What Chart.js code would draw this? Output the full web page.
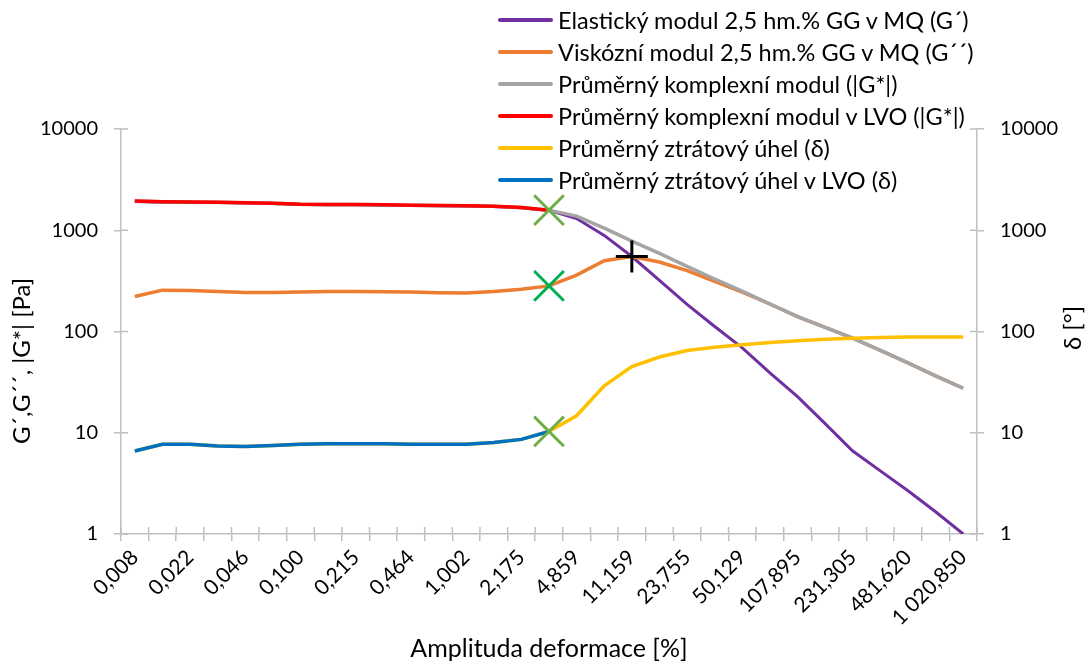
<!DOCTYPE html>
<html>
<head>
<meta charset="utf-8">
<script src="https://cdn.jsdelivr.net/npm/chart.js@4.4.0/dist/chart.umd.min.js"></script>
<style>
  body { margin: 0; background: #fff; }
  #wrap { position: relative; width: 1091px; height: 664px; }
  #legend { position: absolute; left: 498px; top: 4px; font-family: Lato, sans-serif; font-size: 23.5px; color: #000; }
  #legend .row { display: flex; align-items: center; height: 32px; white-space: nowrap; }
  #legend .line { width: 55px; height: 4px; margin-right: 5px; border-radius: 2px; }
</style>
</head>
<body>
<div id="wrap">
  <canvas id="chart"></canvas>
  <div id="legend"></div>
</div>
<script>
// amplituda deformace [%]
const categories = ['0,008', '0,014', '0,022', '0,032', '0,046', '0,068', '0,100', '0,147', '0,215', '0,316',
  '0,464', '0,681', '1,002', '1,476', '2,175', '3,251', '4,859', '7,363', '11,159', '16,281',
  '23,755', '34,509', '50,129', '73,544', '107,895', '157,977', '231,305', '333,768', '481,620', '701,173',
  '1 020,850'];

// G' a G'' [Pa]
const elasticModulus = [1925, 1895, 1885, 1875, 1855, 1835, 1795, 1785, 1785, 1775, 1755, 1745, 1735, 1715, 1665, 1570,
  1306, 890, 550, 320, 185, 112, 69, 39, 22.7, 12.3, 6.6, 4.2, 2.67, 1.66, 1.0];
const viscousModulus = [222, 256, 254, 248, 243, 243, 246, 249, 248, 247, 245, 241, 240, 248, 262, 282,
  360, 500, 550, 485, 400, 313, 245, 187, 140, 110, 86, 65, 49, 36.5, 27.5];

// |G*| [Pa]
const complexModulus = [1940, 1910, 1900, 1890, 1870, 1850, 1810, 1800, 1800, 1790, 1770, 1760, 1750, 1730, 1680, 1580,
  1380, 1050, 780, 590, 440, 330, 250, 187, 140, 110, 86, 65, 49, 36.5, 27.5];
const complexModulusLVO = [1940, 1910, 1900, 1890, 1870, 1850, 1810, 1800, 1800, 1790, 1770, 1760, 1750, 1730, 1680, 1580];

// ztratovy uhel [°]
const lossAngle = [6.6, 7.7, 7.7, 7.4, 7.3, 7.5, 7.7, 7.8, 7.8, 7.8, 7.7, 7.7, 7.7, 8.0, 8.6, 10.3,
  14.7, 29, 45, 56, 65, 70, 74, 78, 81, 84, 86, 87, 88, 88, 88];
const lossAngleLVO = [6.6, 7.7, 7.7, 7.4, 7.3, 7.5, 7.7, 7.8, 7.8, 7.8, 7.7, 7.7, 7.7, 8.0, 8.6, 10.3];

// konec LVO a bod krizeni G' = G''
const lvoEndIndex = 15;
const lvoEndG = 1580;
const lvoEndViscous = 282;
const lvoEndAngle = 10.3;
const crossoverIndex = 18;
const crossoverValue = 550;

const yTicks = [1, 10, 100, 1000, 10000];

function onePoint(idx, val) {
  return categories.map((c, i) => (i === idx ? val : null));
}

Chart.defaults.font.family = 'Lato, sans-serif';
Chart.defaults.font.size = 20;
Chart.defaults.color = '#000';

const axisColor = '#BFBFBF';

// kratke carky dovnitr grafu (Excel "cross" tick marks)
const crossTicks = {
  id: 'crossTicks',
  afterDraw(chart) {
    const { ctx, chartArea, scales } = chart;
    ctx.save();
    ctx.strokeStyle = axisColor;
    ctx.lineWidth = 1.5;
    ctx.beginPath();
    yTicks.forEach(v => {
      const y = scales.y.getPixelForValue(v);
      ctx.moveTo(chartArea.left, y);
      ctx.lineTo(chartArea.left + 7, y);
      ctx.moveTo(chartArea.right - 7, y);
      ctx.lineTo(chartArea.right, y);
    });
    for (let i = 0; i <= categories.length; i++) {
      const x = scales.x.getPixelForValue(i - 0.5);
      ctx.moveTo(x, chartArea.bottom);
      ctx.lineTo(x, chartArea.bottom - 7);
    }
    ctx.stroke();
    ctx.restore();
  }
};

// popisky svislych os (oba ctene zdola nahoru)
function drawVertical(ctx, text, x, y) {
  ctx.save();
  ctx.fillStyle = '#000';
  ctx.font = '24px Lato, sans-serif';
  ctx.textAlign = 'center';
  ctx.textBaseline = 'middle';
  ctx.translate(x, y);
  ctx.rotate(-Math.PI / 2);
  ctx.fillText(text, 0, 0);
  ctx.restore();
}

const axisTitles = {
  id: 'axisTitles',
  afterDraw(chart) {
    drawVertical(chart.ctx, 'G´,G´´, |G*| [Pa]', 22, 361);
    drawVertical(chart.ctx, 'δ [°]', 1073, 328);
  }
};

const htmlLegend = {
  id: 'htmlLegend',
  afterUpdate(chart) {
    const box = document.getElementById('legend');
    box.innerHTML = '';
    const items = chart.options.plugins.legend.labels.generateLabels(chart)
      .filter(item => item.datasetIndex < 6)
      .sort((a, b) => a.datasetIndex - b.datasetIndex);
    items.forEach(item => {
      const row = document.createElement('div');
      row.className = 'row';
      const line = document.createElement('span');
      line.className = 'line';
      line.style.background = item.strokeStyle;
      const text = document.createElement('span');
      text.textContent = item.text;
      row.appendChild(line);
      row.appendChild(text);
      box.appendChild(row);
    });
  }
};

function series(label, data, color, order, axis, width) {
  return {
    label: label,
    data: data,
    borderColor: color,
    backgroundColor: color,
    borderWidth: width || 3.5,
    pointRadius: 0,
    tension: 0,
    fill: false,
    order: order,
    yAxisID: axis
  };
}

function marker(label, data, color, style, radius, axis) {
  return {
    label: label,
    data: data,
    showLine: false,
    pointStyle: style,
    pointRadius: radius,
    pointHoverRadius: radius,
    pointBorderWidth: 3,
    pointBorderColor: color,
    borderColor: color,
    backgroundColor: color,
    order: 0,
    yAxisID: axis
  };
}

const ctx = document.getElementById('chart').getContext('2d');
const chart = new Chart(ctx, {
  type: 'line',
  data: {
    labels: categories,
    datasets: [
      series('Elastický modul 2,5 hm.% GG v MQ (G´)', elasticModulus, '#7030A0', 6, 'y', 3),
      series('Viskózní modul 2,5 hm.% GG v MQ (G´´)', viscousModulus, '#ED7D31', 5, 'y'),
      series('Průměrný komplexní modul (|G*|)', complexModulus, '#A5A5A5', 4, 'y'),
      series('Průměrný komplexní modul v LVO (|G*|)', complexModulusLVO, '#FF0000', 3, 'y'),
      series('Průměrný ztrátový úhel (δ)', lossAngle, '#FFC000', 2, 'y2'),
      series('Průměrný ztrátový úhel v LVO (δ)', lossAngleLVO, '#0070C0', 1, 'y2'),
      marker('konec LVO |G*|', onePoint(lvoEndIndex, lvoEndG), '#70AD47', 'crossRot', 21, 'y'),
      marker('konec LVO G´´', onePoint(lvoEndIndex, lvoEndViscous), '#00B050', 'crossRot', 21, 'y'),
      marker('konec LVO δ', onePoint(lvoEndIndex, lvoEndAngle), '#70AD47', 'crossRot', 21, 'y2'),
      marker('G´ = G´´', onePoint(crossoverIndex, crossoverValue), '#000000', 'cross', 16, 'y')
    ]
  },
  options: {
    responsive: true,
    maintainAspectRatio: false,
    animation: false,
    layout: { padding: { top: 129, left: 0, right: 0, bottom: 0 } },
    plugins: {
      legend: { display: false },
      tooltip: { enabled: false }
    },
    scales: {
      x: {
        type: 'category',
        offset: true,
        grid: { display: true, drawOnChartArea: false, offset: true, tickLength: 7, color: axisColor, lineWidth: 1.5 },
        border: { color: axisColor, width: 1.5 },
        ticks: {
          autoSkip: false,
          maxRotation: 45,
          minRotation: 45,
          padding: 4,
          font: { size: 21 },
          callback: (v, i) => (i % 2 === 0 ? categories[i] : '')
        },
        title: { display: true, text: 'Amplituda deformace [%]', font: { size: 25 }, padding: { top: 0, bottom: 0 } },
        afterFit: s => { s.height = 130; }
      },
      y: {
        type: 'logarithmic',
        position: 'left',
        min: 1,
        max: 10000,
        grid: { drawOnChartArea: false, tickLength: 7, color: axisColor, lineWidth: 1.5 },
        border: { color: axisColor, width: 1.5 },
        ticks: { padding: 16, callback: v => String(v) },
        afterBuildTicks: s => { s.ticks = yTicks.map(v => ({ value: v })); },
        afterFit: s => { s.width = 121; }
      },
      y2: {
        type: 'logarithmic',
        position: 'right',
        min: 1,
        max: 10000,
        grid: { drawOnChartArea: false, tickLength: 7, color: axisColor, lineWidth: 1.5 },
        border: { color: axisColor, width: 1.5 },
        ticks: { padding: 16, callback: v => String(v) },
        afterBuildTicks: s => { s.ticks = yTicks.map(v => ({ value: v })); },
        afterFit: s => { s.width = 114; }
      }
    }
  },
  plugins: [crossTicks, axisTitles, htmlLegend]
});
</script>
</body>
</html>
